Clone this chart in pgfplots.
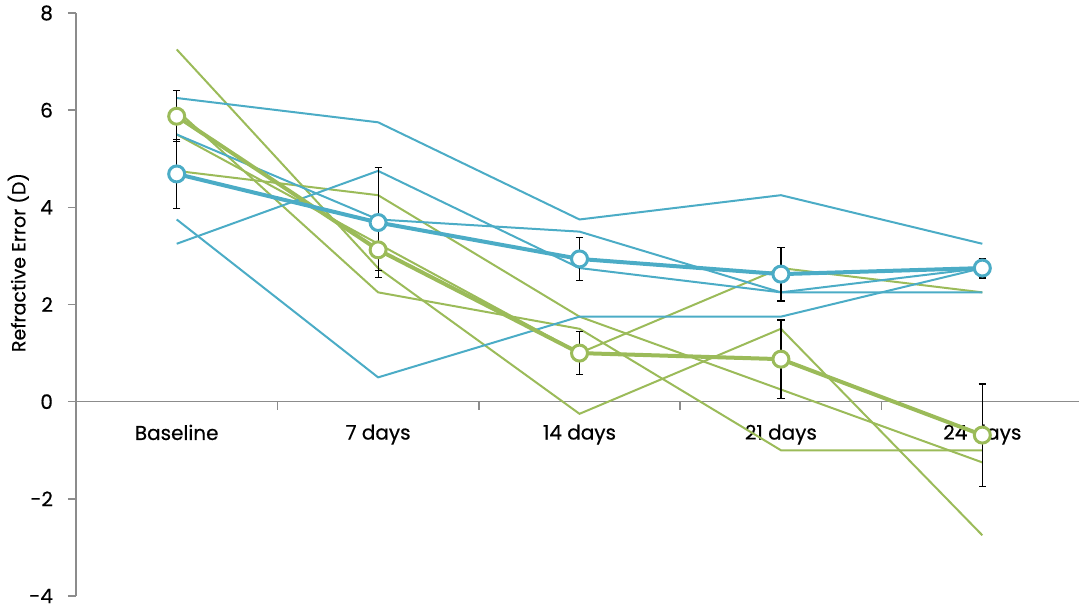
\documentclass[border=0pt]{standalone}
\usepackage{pgfplots}
\pgfplotsset{compat=1.18}
\usepackage{fontspec}
\setmainfont{Poppins}
\newfontfamily\labelfont{Poppins}[FakeBold=0.5]

\definecolor{aqua}{HTML}{4BACC6}
\definecolor{leaf}{HTML}{9BBB59}
\definecolor{axisgrey}{HTML}{8C8C8C}

\pgfplotsset{
  subject/.style={line width=1pt},
  groupmean/.style={line width=2pt, mark=*, mark size=4pt,
    mark options={fill=white, draw=#1, line width=1.5pt},
    error bars/.cd, y dir=both, y explicit,
    error bar style={black, line width=0.6pt},
    error mark options={rotate=90, black, mark size=1.8pt, line width=0.6pt}},
}

\begin{document}
\begin{tikzpicture}
\begin{axis}[
  scale only axis, width=501.5pt, height=291.5pt,
  xmin=-0.5, xmax=4.48, ymin=-4, ymax=8,
  clip=false,
  axis x line=middle, axis y line=left,
  axis line style={-, axisgrey, line width=0.75pt},
  xtick={0,1,2,3,4},
  xticklabels={Baseline,7 days,14 days,21 days,24 days},
  minor xtick={0.5,1.5,2.5,3.5},
  ytick={-4,-2,0,2,4,6,8},
  yticklabels={-4,-2,0,2,4,6,8},
  tick align=outside,
  major tick length=4pt, minor tick length=4pt,
  tick style={axisgrey, line width=0.75pt},
  major x tick style={draw=none},
  ticklabel style={font=\labelfont\fontsize{10}{12}\selectfont, black},
  xticklabel style={yshift=-4pt},
  yticklabel style={xshift=-4pt},
  ylabel={Refractive Error (D)},
  every axis y label/.style={at={([xshift=-20pt]axis description cs:0,0.572)},
    rotate=90, anchor=south, font=\labelfont\fontsize{9.5}{11}\selectfont},
]

% individual eyes, plus-lens group
\addplot[leaf, subject] coordinates {(0,7.25) (1,2.75) (2,-0.25) (3,1.5) (4,-2.75)};
\addplot[leaf, subject] coordinates {(0,6.0) (1,2.25) (2,1.5) (3,-1.0) (4,-1.0)};
\addplot[leaf, subject] coordinates {(0,5.5) (1,3.25) (2,1.0) (3,2.75) (4,2.25)};
\addplot[leaf, subject] coordinates {(0,4.75) (1,4.25) (2,1.75) (3,0.25) (4,-1.25)};

% individual eyes, control group
\addplot[aqua, subject] coordinates {(0,6.25) (1,5.75) (2,3.75) (3,4.25) (4,3.25)};
\addplot[aqua, subject] coordinates {(0,3.25) (1,4.75) (2,2.75) (3,2.25) (4,2.75)};
\addplot[aqua, subject] coordinates {(0,3.75) (1,0.5) (2,1.75) (3,1.75) (4,2.75)};
\addplot[aqua, subject] coordinates {(0,5.5) (1,3.75) (2,3.5) (3,2.25) (4,2.25)};

% group means with standard errors
\addplot[leaf, groupmean=leaf] coordinates {
  (0,5.875) +- (0,0.525)
  (1,3.125) +- (0,0.427)
  (2,1.0) +- (0,0.445)
  (3,0.875) +- (0,0.807)
  (4,-0.6875) +- (0,1.053)};

\addplot[aqua, groupmean=aqua] coordinates {
  (0,4.6875) +- (0,0.71)
  (1,3.6875) +- (0,1.138)
  (2,2.9375) +- (0,0.449)
  (3,2.625) +- (0,0.554)
  (4,2.75) +- (0,0.204)};

\coordinate (sw) at (axis cs:-0.5,-4);
\coordinate (ne) at (axis cs:4.48,8);
\end{axis}
\pgfresetboundingbox
\path ([xshift=-38pt,yshift=-6pt]sw) rectangle ([yshift=6.5pt]ne);
\end{tikzpicture}
\end{document}
